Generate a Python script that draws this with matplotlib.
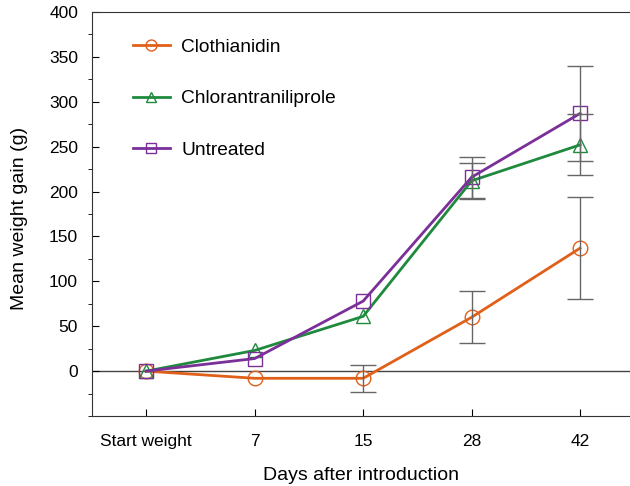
import numpy as np
import matplotlib
matplotlib.use('Agg')
import matplotlib.pyplot as plt
from matplotlib.ticker import MultipleLocator

plt.rcParams['font.family'] = ['Liberation Sans', 'DejaVu Sans']

days = ['Start weight', '7', '15', '28', '42']

cloth = [0, -8, -8, 60, 137]
cloth_err = [0, 0, 15, 29, 57]
chlor = [0, 23, 61, 212, 252]
chlor_err = [0, 0, 0, 20, 34]
untreated = [0, 14, 78, 216, 287]
untreated_err = [0, 0, 0, 23, 53]

x = np.arange(len(days))

fig = plt.figure(figsize=(6.3, 4.86), dpi=100)
ax = fig.add_axes([92/630, 70/486, 538/630, 404/486])

ax.axhline(0, color='#444444', lw=1, zorder=1)

series = [(cloth, cloth_err, '#e0601a', 'o', 'Clothianidin'),
          (chlor, chlor_err, '#1f8a3e', '^', 'Chlorantraniliprole'),
          (untreated, untreated_err, '#7b2f98', 's', 'Untreated')]

for vals, err, col, mk, lab in series:
    vals = np.array(vals)
    err = np.array(err)
    m = err > 0
    # only points with a measured spread get an error bar
    ax.errorbar(x[m], vals[m], yerr=err[m], fmt='none', ecolor='#666666',
                elinewidth=1, capsize=9.5, capthick=1, zorder=4)
    ax.plot(x, vals, color=col, lw=2, marker=mk, markersize=10.5,
            markerfacecolor='none', markeredgecolor=col, markeredgewidth=1,
            label=lab, zorder=3)

ax.set_xlim(-0.5, 4.46)
ax.set_ylim(-50, 400)
ax.set_xticks(x)
ax.set_xticklabels(days)
ax.set_yticks(np.arange(0, 401, 50))
ax.yaxis.set_minor_locator(MultipleLocator(25))

ax.tick_params(axis='both', direction='in', labelsize=12.5)
ax.tick_params(axis='y', which='major', length=5, pad=10)
ax.tick_params(axis='y', which='minor', length=3)
ax.tick_params(axis='x', length=5, pad=13)

ax.spines['right'].set_visible(False)
for s in ['top', 'bottom', 'left']:
    ax.spines[s].set_color('#333333')

ax.set_ylabel('Mean weight gain (g)', fontsize=14)
ax.yaxis.set_label_coords(-0.119, 0.49)
ax.set_xlabel('Days after introduction', fontsize=14)
ax.xaxis.set_label_coords(0.5, -0.126)
ax.xaxis.label.set_va('top')

ax.legend(loc='upper left', bbox_to_anchor=(0.076, 0.935), frameon=False,
          fontsize=13.8, borderpad=0, borderaxespad=0, labelspacing=1.78,
          handlelength=1.93, handletextpad=0.6, markerscale=0.75)

plt.savefig('out.png', dpi=100)
